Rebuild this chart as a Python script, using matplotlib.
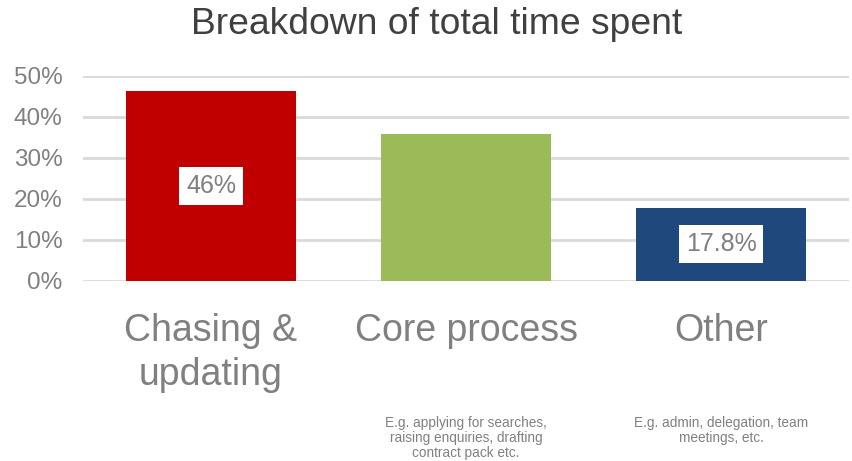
import numpy as np
import matplotlib.pyplot as plt

plt.rcParams['font.family'] = ['Liberation Sans', 'DejaVu Sans']

categories = ['Chasing &\nupdating', 'Core process', 'Other']
shares = [0.463, 0.359, 0.178]
bar_labels = ['46%', '', '17.8%']
notes = ['', 'E.g. applying for searches,\nraising enquiries, drafting\ncontract pack etc.',
         'E.g. admin, delegation, team\nmeetings, etc.']
colors = ['#C00000', '#9BBB59', '#1F497D']

gray = '#808080'

fig = plt.figure(figsize=(8.52, 4.61), dpi=100)
ax = fig.add_axes([0.098, 0.3905, 0.898, 0.4447])

x = np.arange(len(categories))
bars = ax.bar(x, shares, width=0.667, color=colors, zorder=2)

ax.set_ylim(0, 0.5)
ax.set_xlim(-0.5, len(categories) - 0.5)
ax.set_yticks(np.arange(0, 0.51, 0.1))
ax.set_yticklabels([f'{int(round(v * 100))}%' for v in np.arange(0, 0.51, 0.1)])
ax.yaxis.grid(True, color='#D9D9D9', linewidth=2, zorder=0)
ax.set_axisbelow(True)
for s in ax.spines.values():
    s.set_visible(False)
ax.tick_params(axis='y', length=0, labelsize=17.5, labelcolor=gray, pad=15)
ax.set_xticks(x)
ax.set_xticklabels(categories, fontsize=27, color=gray, linespacing=1.3)
ax.tick_params(axis='x', length=0, pad=23)

ax.bar_label(bars, labels=bar_labels, label_type='center', fontsize=18, color='#7F7F7F',
             bbox=dict(facecolor='white', edgecolor='none', pad=5))

for i, note in enumerate(notes):
    if note:
        xd = ax.transData.transform((x[i], 0))[0] / fig.bbox.width
        fig.text(xd, 0.098, note, ha='center', va='top', fontsize=9.8, color=gray,
                 linespacing=1.08)

fig.suptitle('Breakdown of total time spent', fontsize=26.8, color='#404040', x=0.513, y=0.985)

fig.savefig('out.png', dpi=100)
